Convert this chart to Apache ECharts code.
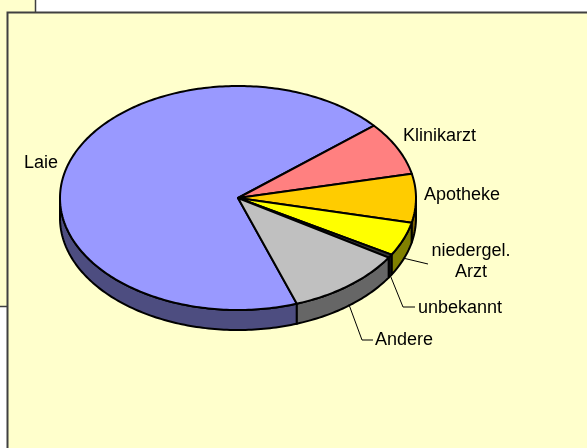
<!DOCTYPE html>
<html>
<head>
<meta charset="utf-8">
<script src="https://cdn.jsdelivr.net/npm/echarts@6/dist/echarts.min.js"></script>
<style>
  html, body { margin: 0; padding: 0; background: #fff; }
  #chart { width: 587px; height: 448px; }
</style>
</head>
<body>
<div id="chart"></div>
<script>
// data (share in %)
const categories = ["Laie", "Klinikarzt", "Apotheke", "niedergel.\nArzt", "unbekannt", "Andere"];
const values = [69.2, 7.7, 7.0, 4.9, 0.5, 10.7];

const topColors = ["#9999FF", "#FF8080", "#FFCC00", "#FFFF00", "#333333", "#C0C0C0"];
const sideColors = ["#4D4D80", "#804040", "#806600", "#808000", "#1a1a1a", "#666666"];

// pie geometry (ellipse = tilted circle)
const cx = 238, cy = 198, rx = 178, ry = 112, depth = 20;
const startAngle = 70.7; // degrees, clockwise on screen from 3 o'clock

// label placement
const labelLayout = [
  { x: 41, y: 163, align: "center" },
  { x: 403, y: 136, align: "left" },
  { x: 424, y: 195, align: "left" },
  { x: 471, y: 262, align: "center" },
  { x: 418, y: 308, align: "left" },
  { x: 375, y: 340, align: "left" },
];
// elbow points of the leader lines (null = no leader)
const leaders = [null, null, null, [[428, 264]], [[403, 307], [415, 307]], [[362, 340], [373, 340]]];

const total = values.reduce((a, b) => a + b, 0);
const starts = [];
let acc = startAngle;
values.forEach((v) => {
  starts.push(acc);
  acc += (v / total) * 360;
});

function pt(deg, dz) {
  const t = (deg * Math.PI) / 180;
  return [cx + rx * Math.cos(t), cy + ry * Math.sin(t) + (dz || 0)];
}
function arc(a0, a1, dz) {
  const pts = [];
  const n = Math.max(2, Math.ceil(Math.abs(a1 - a0)));
  for (let i = 0; i <= n; i++) pts.push(pt(a0 + ((a1 - a0) * i) / n, dz));
  return pts;
}

function renderItem(params, api) {
  const i = params.dataIndex;
  const a0 = starts[i];
  const a1 = a0 + (api.value(0) / total) * 360;
  const children = [];

  // front wall: only the part facing the viewer (0..180 deg)
  [[0, 180], [360, 540]].forEach(([lo, hi]) => {
    const s = Math.max(a0, lo), e = Math.min(a1, hi);
    if (e > s) {
      const pts = arc(s, e, 0).concat(arc(e, s, depth));
      children.push({
        type: "polygon",
        z2: 1,
        shape: { points: pts },
        style: { fill: sideColors[i], stroke: "#000", lineWidth: 2, lineJoin: "round" },
      });
    }
  });

  // top face
  children.push({
    type: "polygon",
    z2: 2,
    shape: { points: [[cx, cy]].concat(arc(a0, a1, 0)) },
    style: { fill: topColors[i], stroke: "#000", lineWidth: 2, lineJoin: "round" },
  });

  // label
  const lay = labelLayout[i];
  children.push({
    type: "text",
    z2: 3,
    style: {
      text: categories[i],
      x: lay.x,
      y: lay.y,
      align: lay.align,
      verticalAlign: "middle",
      lineHeight: 21,
      font: '18px "Liberation Sans", Arial, sans-serif',
      fill: "#000",
    },
  });

  // leader line from the slice wall to the label
  if (leaders[i]) {
    const mid = (a0 + a1) / 2;
    const p0 = pt(mid, depth - 1);
    children.push({
      type: "polyline",
      z2: 3,
      shape: { points: [p0].concat(leaders[i]) },
      style: { stroke: "#000", lineWidth: 1, fill: null },
    });
  }

  return { type: "group", children };
}

const chart = echarts.init(document.getElementById("chart"));
chart.setOption({
  backgroundColor: "#fff",
  animation: false,
  graphic: [
    {
      type: "rect",
      z: 0,
      shape: { x: -10, y: -10, width: 45.5, height: 316.5 },
      style: { fill: "#FFFFCC", stroke: "#404040", lineWidth: 1.5 },
    },
    {
      type: "rect",
      z: 1,
      shape: { x: 7.5, y: 12.5, width: 600, height: 460 },
      style: { fill: "#FFFFCC", stroke: "#404040", lineWidth: 2 },
    },
  ],
  series: [
    {
      type: "custom",
      coordinateSystem: "none",
      z: 5,
      renderItem,
      data: values,
    },
  ],
});
</script>
</body>
</html>
